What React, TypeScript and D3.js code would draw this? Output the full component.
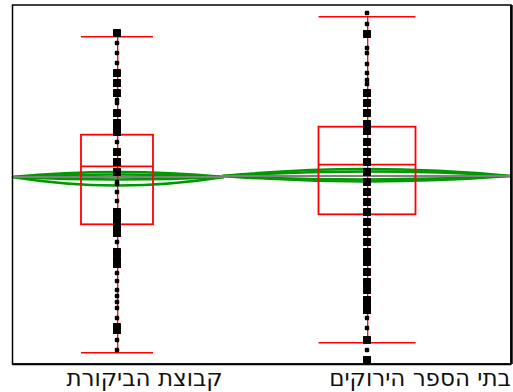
import React from "react";
import * as d3 from "d3";

// Group labels (Hebrew)
const groups = ["קבוצת הביקורת", "בתי הספר הירוקים"];

// Individual scores per group; counts > 1 are stacked duplicates (drawn larger)
const controlScores = [4.17, 4.07, 3.97, 3.87, 3.77, 3.67, 3.57, 3.5, 3.47, 3.37, 3.27, 3.22, 3.18, 3.08, 2.98, 2.88, 2.78, 2.68, 2.66, 2.58, 2.49, 2.38, 2.35, 2.28, 2.24, 2.2, 2.17, 2.08, 1.98, 1.9, 1.86, 1.77, 1.69, 1.6, 1.54, 1.48, 1.42, 1.32, 1.23, 1.2, 1.1, 1.0];
const controlCounts = [3, 1, 1, 1, 2, 2, 2, 1, 1, 2, 2, 2, 2, 1, 2, 2, 2, 1, 1, 1, 1, 2, 2, 2, 2, 2, 2, 1, 2, 2, 2, 1, 1, 1, 1, 1, 1, 1, 2, 2, 1, 1];
const greenScores = [4.37, 4.26, 4.16, 4.02, 3.97, 3.86, 3.77, 3.7, 3.66, 3.57, 3.47, 3.37, 3.26, 3.19, 3.08, 2.98, 2.88, 2.78, 2.68, 2.58, 2.48, 2.38, 2.28, 2.18, 2.08, 1.98, 1.92, 1.88, 1.78, 1.68, 1.6, 1.5, 1.44, 1.4, 1.32, 1.22, 1.1, 1.0, 0.9];
const greenCounts = [1, 1, 2, 1, 1, 1, 1, 1, 1, 2, 2, 2, 2, 2, 2, 2, 2, 2, 2, 2, 2, 2, 2, 2, 2, 2, 2, 2, 2, 2, 2, 2, 2, 2, 1, 1, 2, 1, 2];

// Box plot summaries: [lower whisker, Q1, median, Q3, upper whisker]
const boxStats = [
  [0.973, 2.257, 2.837, 3.153, 4.133],
  [1.073, 2.357, 2.853, 3.233, 4.333],
];
const boxHalfWidths = [0.144, 0.194];

// Group means and density lens extents
const means = [2.73, 2.74];
const lensOuter = [[2.78, 2.645], [2.81, 2.685]];
const lensInner = [[2.755, 2.705], [2.785, 2.705]];
const lensHalfSpans = [[0.42, 0.428], [0.58, 0.576]];

const W = 513;
const H = 392;
const plot = { left: 12.5, right: 511, top: 5, bottom: 364 };

export default function App() {
  const x = d3.scaleLinear().domain([0, 1]).range([117, 367]);
  const y = d3.scaleLinear().domain([0.86, 4.45]).range([364, 5]);
  const unit = x(1) - x(0);

  const scoreSets = [controlScores, greenScores];
  const countSets = [controlCounts, greenCounts];
  const labelX = [144.5, 420];

  const lensPath = (i: number, top: number, bot: number) => {
    const cx = x(i);
    const x0 = cx - lensHalfSpans[i][0] * unit;
    const x1 = cx + lensHalfSpans[i][1] * unit;
    const ym = y(means[i]);
    const p = d3.path();
    p.moveTo(x0, ym);
    p.quadraticCurveTo(cx, 2 * y(top) - ym, x1, ym);
    p.quadraticCurveTo(cx, 2 * y(bot) - ym, x0, ym);
    p.closePath();
    return p.toString();
  };

  return (
    <svg
      width={W}
      height={H}
      style={{ position: "absolute", left: 0, top: 0, background: "#fff" }}
    >
      {groups.map((g, i) => {
        const cx = x(i);
        const hw = boxHalfWidths[i] * unit;
        const [lo, q1, med, q3, hi] = boxStats[i];
        const x0 = cx - lensHalfSpans[i][0] * unit;
        const x1 = cx + lensHalfSpans[i][1] * unit;
        return (
          <g key={g}>
            <path d={lensPath(i, lensOuter[i][0], lensOuter[i][1])} fill="none" stroke="#009900" strokeWidth={2.4} />
            <path d={lensPath(i, lensInner[i][0], lensInner[i][1])} fill="none" stroke="#009900" strokeWidth={2.4} />
            <line x1={x0} x2={x1} y1={y(means[i])} y2={y(means[i])} stroke="#808080" strokeWidth={2} />
            <line x1={cx + 0.7} x2={cx + 0.7} y1={y(hi)} y2={y(lo)} stroke="#ff0000" strokeWidth={1.3} />
            <line x1={cx - hw} x2={cx + hw} y1={y(hi)} y2={y(hi)} stroke="#ff0000" strokeWidth={1.6} />
            <line x1={cx - hw} x2={cx + hw} y1={y(lo)} y2={y(lo)} stroke="#ff0000" strokeWidth={1.6} />
            <rect x={cx - hw} y={y(q3)} width={2 * hw} height={y(q1) - y(q3)} fill="none" stroke="#ff0000" strokeWidth={1.8} />
            <line x1={cx - hw} x2={cx + hw} y1={y(med)} y2={y(med)} stroke="#ff0000" strokeWidth={1.8} />
            {scoreSets[i].map((v, j) => {
              const s = countSets[i][j] > 1 ? 8 : 4.5;
              return (
                <rect
                  key={j}
                  x={cx - s / 2}
                  y={y(v) - s / 2}
                  width={s}
                  height={s}
                  rx={s < 5 ? 1.2 : 0.5}
                  fill="#000"
                />
              );
            })}
            <text
              x={labelX[i]}
              y={386}
              textAnchor="middle"
              fontFamily="DejaVu Sans"
              fontSize={23}
              fill="#111"
            >
              {g}
            </text>
          </g>
        );
      })}
      <rect
        x={plot.left}
        y={plot.top}
        width={plot.right - plot.left}
        height={plot.bottom - plot.top}
        fill="none"
        stroke="#000"
        strokeWidth={1.5}
      />
      <line x1={plot.right + 0.5} x2={plot.right + 0.5} y1={plot.top} y2={plot.bottom} stroke="#000" strokeWidth={2.5} />
      <line x1={plot.left} x2={plot.right} y1={plot.bottom + 0.3} y2={plot.bottom + 0.3} stroke="#000" strokeWidth={2} />
    </svg>
  );
}
